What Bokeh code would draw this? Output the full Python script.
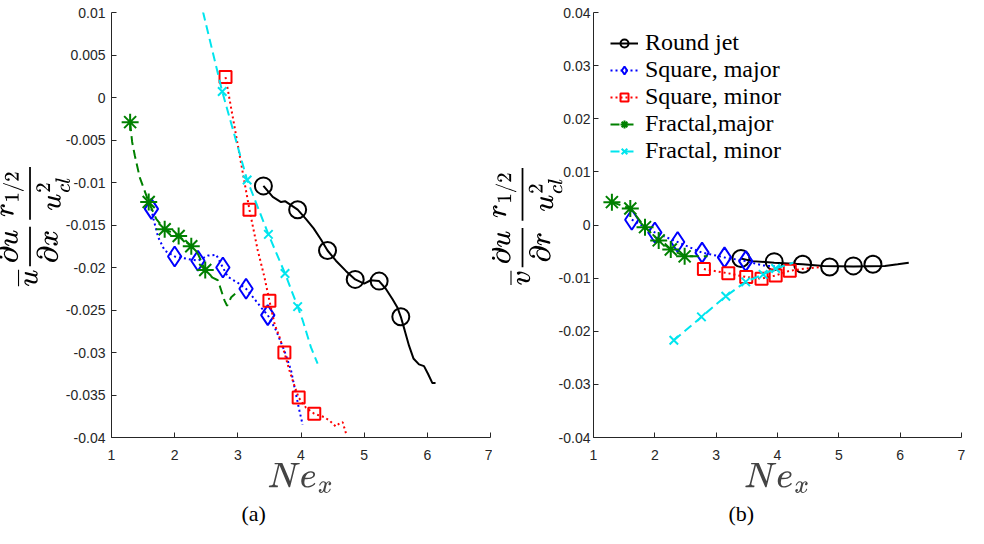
from bokeh.plotting import figure
from bokeh.layouts import row
from bokeh.models import Range1d, FixedTicker, Title, Legend, LegendItem
from bokeh.embed import file_html
from bokeh.resources import INLINE

# ---------------- data: panel (a) ----------------
rj_a_x = [3.405, 3.947, 4.42, 4.858, 5.237, 5.58]
rj_a_y = [-0.0104, -0.0132, -0.0180, -0.0214, -0.0216, -0.0258]
rj_a_lx = [3.405, 3.553, 3.684, 3.747, 3.947, 4.08, 4.2, 4.316, 4.42, 4.553, 4.71, 4.858, 5.0, 5.105,
           5.237, 5.342, 5.447, 5.526, 5.58, 5.642, 5.71, 5.78, 5.868, 5.947, 6.01, 6.08, 6.13]
rj_a_ly = [-0.0104, -0.0117, -0.0123, -0.0122, -0.0132, -0.0143, -0.0154, -0.0167, -0.0180, -0.0192,
           -0.0204, -0.0214, -0.0219, -0.0215, -0.0216, -0.0225, -0.0237, -0.0247, -0.0258, -0.0274,
           -0.0292, -0.0307, -0.0314, -0.0316, -0.0325, -0.0336, -0.0336]

sqmaj_a_x = [1.632, 2.0, 2.368, 2.763, 3.13, 3.474]
sqmaj_a_y = [-0.0131, -0.0187, -0.0192, -0.0200, -0.0225, -0.0256]
sqmaj_a_lx = [1.632, 1.658, 1.737, 1.842, 2.0, 2.21, 2.368, 2.526, 2.658, 2.763, 2.842, 3.0, 3.13,
              3.263, 3.368, 3.474, 3.605, 3.737, 3.842, 3.92, 3.974, 4.026]
sqmaj_a_ly = [-0.0131, -0.0141, -0.0164, -0.0180, -0.0187, -0.0190, -0.0192, -0.0186, -0.0185, -0.0200,
              -0.0211, -0.0218, -0.0225, -0.0237, -0.0247, -0.0256, -0.0274, -0.0298, -0.0321, -0.0349,
              -0.0368, -0.0385]

sqmin_a_x = [2.805, 3.184, 3.5, 3.737, 3.963, 4.21]
sqmin_a_y = [0.0024, -0.0132, -0.0239, -0.0300, -0.0353, -0.0372]
sqmin_a_lx = [2.805, 2.842, 3.184, 3.316, 3.42, 3.5, 3.58, 3.66, 3.737, 3.816, 3.895, 3.963, 4.08,
              4.21, 4.368, 4.45, 4.55, 4.6, 4.66, 4.72]
sqmin_a_ly = [0.0024, 0.0009, -0.0132, -0.0180, -0.0211, -0.0239, -0.0266, -0.0282, -0.0300, -0.0321,
              -0.0339, -0.0353, -0.0365, -0.0372, -0.0376, -0.0380, -0.0387, -0.0384, -0.0382, -0.0397]

frmaj_a_x = [1.295, 1.589, 1.842, 2.063, 2.263, 2.484]
frmaj_a_y = [-0.0029, -0.0123, -0.0155, -0.0163, -0.0175, -0.0203]
frmaj_a_lx = [1.295, 1.326, 1.368, 1.447, 1.589, 1.71, 1.842, 2.063, 2.263, 2.368, 2.484, 2.6, 2.684,
              2.79, 2.83, 2.895, 2.958]
frmaj_a_ly = [-0.0029, -0.0052, -0.0068, -0.0094, -0.0123, -0.0143, -0.0155, -0.0163, -0.0175, -0.0184,
              -0.0203, -0.0212, -0.0215, -0.0239, -0.0245, -0.0235, -0.0231]

frmin_a_x = [2.753, 3.147, 3.484, 3.747, 3.947]
frmin_a_y = [0.0007, -0.0097, -0.0161, -0.0207, -0.0246]
frmin_a_lx = [2.448, 2.753, 3.147, 3.484, 3.747, 3.947, 4.026, 4.158, 4.263]
frmin_a_ly = [0.0101, 0.0007, -0.0097, -0.0161, -0.0207, -0.0246, -0.0262, -0.0294, -0.0313]

# ---------------- data: panel (b) ----------------
rj_b_x = [3.404, 3.946, 4.41, 4.85, 5.237, 5.556]
rj_b_y = [-0.0063, -0.0069, -0.0074, -0.0079, -0.0077, -0.0074]
rj_b_lx = [3.404, 3.588, 3.946, 4.41, 4.75, 5.237, 5.75, 5.96, 6.14]
rj_b_ly = [-0.0063, -0.0068, -0.0071, -0.0074, -0.0077, -0.0078, -0.0077, -0.0074, -0.0071]

sqmaj_b_x = [1.624, 2.0, 2.372, 2.77, 3.136, 3.482]
sqmaj_b_y = [0.0010, -0.0014, -0.0032, -0.0052, -0.0061, -0.0068]
sqmaj_b_lx = [1.624, 2.0, 2.372, 2.77, 3.136, 3.482, 3.75, 4.05]
sqmaj_b_ly = [0.0010, -0.0014, -0.0032, -0.0052, -0.0061, -0.0068, -0.0076, -0.0079]

sqmin_b_x = [2.8, 3.198, 3.49, 3.74, 3.97, 4.2]
sqmin_b_y = [-0.0083, -0.0091, -0.0098, -0.0101, -0.0095, -0.0086]
sqmin_b_lx = [2.8, 3.198, 3.49, 3.74, 3.97, 4.2, 4.45, 4.72]
sqmin_b_ly = [-0.0083, -0.0091, -0.0098, -0.0101, -0.0095, -0.0086, -0.0082, -0.0079]

frmaj_b_x = [1.3, 1.6, 1.84, 2.063, 2.26, 2.486]
frmaj_b_y = [0.0043, 0.0031, -0.0004, -0.0029, -0.0046, -0.0059]
frmaj_b_lx = [1.3, 1.6, 1.84, 2.063, 2.26, 2.486, 2.86]
frmaj_b_ly = [0.0043, 0.0031, -0.0004, -0.0029, -0.0046, -0.0059, -0.0059]

frmin_b_x = [2.31, 2.76, 3.157, 3.482, 3.766, 3.97]
frmin_b_y = [-0.0217, -0.0173, -0.0134, -0.0107, -0.0093, -0.0082]
frmin_b_lx = [2.31, 2.76, 3.157, 3.482, 3.766, 3.97, 4.256]
frmin_b_ly = [-0.0217, -0.0173, -0.0134, -0.0107, -0.0093, -0.0082, -0.0071]

# ---------------- ticks ----------------
x_ticks = [1, 2, 3, 4, 5, 6, 7]
y_a_ticks = [0.01, 0.005, 0.0, -0.005, -0.01, -0.015, -0.02, -0.025, -0.03, -0.035, -0.04]
y_a_labels = ["0.01", "0.005", "0", "-0.005", "-0.01", "-0.015", "-0.02", "-0.025", "-0.03", "-0.035", "-0.04"]
y_b_ticks = [0.04, 0.03, 0.02, 0.01, 0.0, -0.01, -0.02, -0.03, -0.04]
y_b_labels = ["0.04", "0.03", "0.02", "0.01", "0", "-0.01", "-0.02", "-0.03", "-0.04"]

series_names = ["Round jet", "Square, major", "Square, minor", "Fractal,major", "Fractal, minor"]

AX = "#262626"
SERIF = "Liberation Serif"
SANS = "Liberation Sans"

styles = [
    dict(color="black", dash="solid", marker="circle", size=17),
    dict(color="#0000ff", dash="2 3", marker="diamond", size=20),
    dict(color="#ff0000", dash="2 3", marker="square", size=12),
    dict(color="#008000", dash="9 5", marker="asterisk", size=17),
    dict(color="#00e5ee", dash="9 5", marker="x", size=12),
]


def make_panel(ymin, ymax, yticks, ylabels, ytick_standoff, ylabel_tex, ylab_standoff, caption,
               left, right, width, cap_off, data):
    p = figure(width=width, height=528, x_range=Range1d(1, 7), y_range=Range1d(ymin, ymax),
               output_backend="svg", toolbar_location=None,
               min_border_left=left, min_border_right=right, min_border_top=12, min_border_bottom=91)
    p.grid.visible = False
    p.outline_line_color = None
    p.background_fill_color = "white"
    p.border_fill_color = "white"
    for ax in (p.xaxis[0], p.yaxis[0]):
        ax.axis_line_color = AX
        ax.major_tick_line_color = AX
        ax.major_tick_in = 5
        ax.major_tick_out = 0
        ax.minor_tick_line_color = None
        ax.major_label_text_font = SANS
        ax.major_label_text_font_size = "14px"
        ax.major_label_text_color = AX
    p.xaxis.ticker = FixedTicker(ticks=x_ticks)
    p.xaxis.major_label_standoff = 12
    p.yaxis.ticker = FixedTicker(ticks=yticks)
    p.yaxis.major_label_overrides = {t: s for t, s in zip(yticks, ylabels)}
    p.yaxis.major_label_standoff = ytick_standoff
    p.xaxis.axis_label = r"$$Ne_x$$"
    p.xaxis.axis_label_text_font_size = "30px"
    p.xaxis.axis_label_standoff = 0

    # y label as a vertical TeX title on the left side
    ytit = Title(text=ylabel_tex, align="center", standoff=ylab_standoff, text_font_size="23px",
                 text_font_style="normal", text_color="black")
    p.add_layout(ytit, "left")

    items = []
    for (lx, ly, mx, my), st, name in zip(data, styles, series_names):
        lr = p.line(lx, ly, line_color=st["color"], line_width=2, line_dash=st["dash"])
        sr = p.scatter(mx, my, marker=st["marker"], size=st["size"],
                       line_color=st["color"], fill_color=None, line_width=2)
        items.append(LegendItem(label=name, renderers=[lr, sr]))

    t = Title(text=caption, align="left", offset=cap_off, text_font=SERIF, standoff=0,
              text_font_size="22px", text_font_style="normal", text_color="black")
    p.add_layout(t, "below")
    return p, items


data_a = [
    (rj_a_lx, rj_a_ly, rj_a_x, rj_a_y),
    (sqmaj_a_lx, sqmaj_a_ly, sqmaj_a_x, sqmaj_a_y),
    (sqmin_a_lx, sqmin_a_ly, sqmin_a_x, sqmin_a_y),
    (frmaj_a_lx, frmaj_a_ly, frmaj_a_x, frmaj_a_y),
    (frmin_a_lx, frmin_a_ly, frmin_a_x, frmin_a_y),
]
data_b = [
    (rj_b_lx, rj_b_ly, rj_b_x, rj_b_y),
    (sqmaj_b_lx, sqmaj_b_ly, sqmaj_b_x, sqmaj_b_y),
    (sqmin_b_lx, sqmin_b_ly, sqmin_b_x, sqmin_b_y),
    (frmaj_b_lx, frmaj_b_ly, frmaj_b_x, frmaj_b_y),
    (frmin_b_lx, frmin_b_ly, frmin_b_x, frmin_b_y),
]

pa, _ = make_panel(-0.04, 0.01, y_a_ticks, y_a_labels, 6,
                   r"$$\overline{u}\frac{\partial \overline{u}}{\partial x}\frac{r_{1/2}}{u_{cl}^2}$$", -15,
                   "(a)", 110, 2, 492, 130, data_a)
pb, items_b = make_panel(-0.04, 0.04, y_b_ticks, y_b_labels, 3,
                         r"$$\overline{v}\frac{\partial \overline{u}}{\partial r}\frac{r_{1/2}}{u_{cl}^2}$$", -14,
                         "(b)", 101, 7, 476, 135, data_b)

legend = Legend(items=items_b, location="top_left", border_line_color=None,
                background_fill_alpha=0.0, margin=17, padding=0,
                glyph_width=28, glyph_height=20, label_height=20, spacing=0,
                label_standoff=7, label_text_font=SERIF, label_text_font_size="24px",
                label_text_color="black")
pb.add_layout(legend, "center")

layout = row(pa, pb)
open("out.html", "w").write(file_html(layout, INLINE))
